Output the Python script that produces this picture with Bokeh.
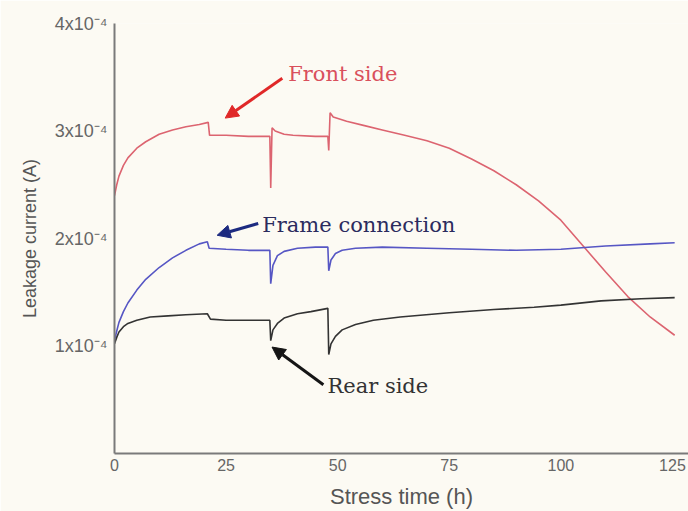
from bokeh.plotting import figure
from bokeh.models import Range1d, FixedTicker, Label, Arrow, NormalHead
from bokeh.embed import file_html
from bokeh.resources import INLINE

# ---- data (leakage current in units of 1e-4 A) ----
t_front = [0, 0.5, 1, 2, 3, 5, 7, 10, 13, 16, 19, 21, 21.3, 25, 30, 34.8, 35, 35.3, 36, 38, 40, 45,
           47.8, 48, 48.3, 49, 52, 56, 60, 65, 70, 75, 80, 85, 90, 95, 100, 105, 110, 115, 120, 125.5]
front = [2.40, 2.50, 2.58, 2.68, 2.75, 2.84, 2.90, 2.97, 3.01, 3.04, 3.06, 3.08, 2.96, 2.96, 2.95, 2.95,
         2.47, 3.03, 3.00, 2.97, 2.96, 2.95, 2.95, 2.82, 3.17, 3.13, 3.09, 3.05, 3.01, 2.96, 2.91, 2.84,
         2.74, 2.63, 2.50, 2.35, 2.17, 1.93, 1.69, 1.46, 1.27, 1.10]

t_frame = [0, 0.5, 1, 2, 3, 5, 7, 10, 13, 16, 19, 20.8, 21.2, 25, 30, 34.8, 35, 35.5, 36.5, 38, 41, 45,
           47.8, 48, 48.5, 49.5, 51, 54, 60, 70, 80, 90, 100, 110, 120, 125.5]
frame = [1.05, 1.14, 1.22, 1.32, 1.40, 1.52, 1.62, 1.73, 1.82, 1.89, 1.95, 1.97, 1.91, 1.90, 1.89, 1.89,
         1.58, 1.75, 1.84, 1.88, 1.91, 1.92, 1.92, 1.70, 1.80, 1.86, 1.89, 1.91, 1.92, 1.91, 1.90, 1.89,
         1.90, 1.93, 1.95, 1.96]

t_rear = [0, 0.5, 1, 2, 3, 5, 8, 12, 16, 20.8, 21.5, 25, 30, 34.8, 35, 35.5, 36.5, 38, 41, 44, 47.8, 48,
          48.5, 49.5, 51, 54, 58, 64, 75, 85, 94, 100, 109, 118, 125.5]
rear = [1.02, 1.08, 1.13, 1.18, 1.21, 1.24, 1.27, 1.28, 1.29, 1.30, 1.25, 1.24, 1.24, 1.24, 1.05, 1.15,
        1.21, 1.26, 1.30, 1.32, 1.35, 0.92, 1.02, 1.09, 1.15, 1.20, 1.24, 1.27, 1.31, 1.34, 1.36, 1.38,
        1.42, 1.44, 1.45]

x_ticks = [0, 25, 50, 75, 100, 125]
y_ticks = [1, 2, 3, 4]
y_tick_labels = ["1x10\u207b\u2074", "2x10\u207b\u2074", "3x10\u207b\u2074", "4x10\u207b\u2074"]

# annotation anchors (data units)
ann_texts = ["Front side", "Frame connection", "Rear side"]
ann_text_x = [38.9, 33.1, 47.7]
ann_text_y = [3.53, 2.13, 0.63]
arrow_start_x = [37.6, 32.2, 46.8]
arrow_start_y = [3.49, 2.14, 0.64]
arrow_end_x = [24.8, 23.0, 35.3]
arrow_end_y = [3.12, 2.03, 0.99]

BG = "#fcfaf3"

p = figure(width=688, height=511, output_backend="svg", toolbar_location=None,
           x_range=Range1d(0, 128.6), y_range=Range1d(0, 4),
           min_border_left=114, min_border_right=0, min_border_top=23, min_border_bottom=58,
           background_fill_color=BG, border_fill_color=BG)
p.outline_line_color = None
p.grid.visible = False

p.line(t_front, front, line_color="#dc6470", line_width=1.6)
p.line(t_frame, frame, line_color="#5656c4", line_width=1.6)
p.line(t_rear, rear, line_color="#333333", line_width=1.6)

for ax in (p.xaxis[0], p.yaxis[0]):
    ax.axis_line_color = "#7a7a7a"
    ax.axis_line_width = 2
    ax.major_tick_line_color = None
    ax.minor_tick_line_color = None
    ax.major_tick_out = 0
    ax.major_tick_in = 0
    ax.major_label_text_color = "#666666"
    ax.major_label_text_font = "Liberation Sans"
    ax.axis_label_text_color = "#555555"
    ax.axis_label_text_font = "Liberation Sans"
    ax.axis_label_text_font_style = "normal"

p.xaxis.ticker = FixedTicker(ticks=x_ticks)
p.yaxis.ticker = FixedTicker(ticks=y_ticks)
p.yaxis.major_label_overrides = {k: v for k, v in zip(y_ticks, y_tick_labels)}
p.xaxis.major_label_text_font_size = "16px"
p.yaxis.major_label_text_font_size = "18px"
p.xaxis.major_label_standoff = 5
p.yaxis.major_label_standoff = 7
p.xaxis.axis_label = "Stress time (h)"
p.yaxis.axis_label = "Leakage current (A)"
p.xaxis.axis_label_text_font_size = "22px"
p.yaxis.axis_label_text_font_size = "18px"
p.xaxis.axis_label_standoff = 10
p.yaxis.axis_label_standoff = 12

text_colors = ["#d9505c", "#2b2b5e", "#333333"]
arrow_colors = ["#e02828", "#1c2a80", "#151515"]
for i in range(3):
    p.add_layout(Label(x=ann_text_x[i], y=ann_text_y[i], text=ann_texts[i],
                       text_font="DejaVu Serif", text_font_size="21px",
                       text_color=text_colors[i], text_baseline="middle", text_align="left"))
    p.add_layout(Arrow(end=NormalHead(size=13, fill_color=arrow_colors[i], line_color=arrow_colors[i]),
                       x_start=arrow_start_x[i], y_start=arrow_start_y[i],
                       x_end=arrow_end_x[i], y_end=arrow_end_y[i],
                       line_color=arrow_colors[i], line_width=3))

open("out.html", "w").write(file_html(p, INLINE))
